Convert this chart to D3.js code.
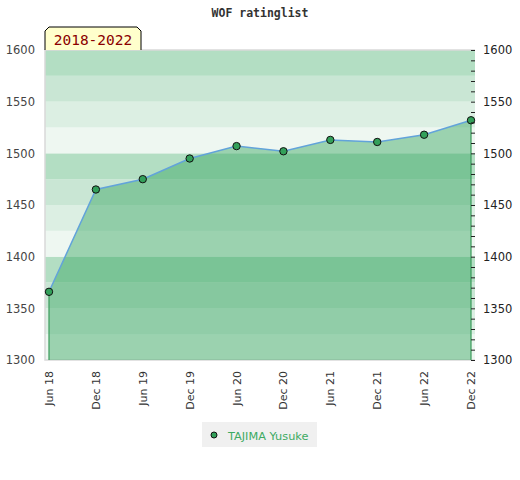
<!DOCTYPE html>
<html>
<head>
<meta charset="utf-8">
<script src="https://cdn.jsdelivr.net/npm/d3@7"></script>
<style>
  body { margin: 0; background: #fff; }
  svg text { font-family: "DejaVu Sans", sans-serif; }
</style>
</head>
<body>
<div id="chart"></div>
<script>
// chart data
var title = "WOF ratinglist";
var periodLabel = "2018-2022";
var playerName = "TAJIMA Yusuke";
var periods = ["Jun 18", "Dec 18", "Jun 19", "Dec 19", "Jun 20", "Dec 20", "Jun 21", "Dec 21", "Jun 22", "Dec 22"];
var ratings = [1366, 1465, 1475, 1495, 1507, 1502, 1513, 1511, 1518, 1532];
var yTicks = [1300, 1350, 1400, 1450, 1500, 1550, 1600];
var yMinorTicks = [1300, 1310, 1320, 1330, 1340, 1350, 1360, 1370, 1380, 1390, 1400, 1410, 1420, 1430, 1440, 1450,
                   1460, 1470, 1480, 1490, 1500, 1510, 1520, 1530, 1540, 1550, 1560, 1570, 1580, 1590, 1600];
var bandStarts = [1300, 1325, 1350, 1375, 1400, 1425, 1450, 1475, 1500, 1525, 1550, 1575];

var width = 520, height = 480;
var margin = { top: 50, right: 45, bottom: 120, left: 45 };
var plotW = width - margin.left - margin.right;
var plotH = height - margin.top - margin.bottom;

var svg = d3.select("#chart").append("svg")
    .attr("width", width)
    .attr("height", height);

// title
svg.append("text")
    .attr("x", width / 2)
    .attr("y", 17)
    .attr("text-anchor", "middle")
    .style("font-family", "'DejaVu Sans Mono', monospace")
    .style("font-weight", "bold")
    .style("font-size", "11.5px")
    .attr("fill", "#333")
    .text(title);

var g = svg.append("g")
    .attr("transform", "translate(" + margin.left + "," + margin.top + ")");

// scales
var x = d3.scalePoint().domain(periods).range([4, plotW - 4]);
var y = d3.scaleLinear().domain([1300, 1600]).range([plotH, 0]);

// background bands, four shades per hundred points
var bandColor = ["#eef7f1", "#dcefe3", "#c9e6d4", "#b3dec3"];
g.selectAll(".band")
    .data(bandStarts)
    .enter().append("rect")
    .attr("class", "band")
    .attr("x", 0)
    .attr("width", plotW)
    .attr("y", function (d) { return y(d + 25); })
    .attr("height", function (d) { return y(d) - y(d + 25); })
    .attr("fill", function (d) { return bandColor[((d - 1300) / 25) % 4]; });

// frame
g.append("path")
    .attr("d", "M" + plotW + ",0H0V" + plotH + "H" + plotW)
    .attr("fill", "none")
    .attr("stroke", "#d9d9d9")
    .attr("stroke-width", 1.5);

// area under the rating line
var area = d3.area()
    .x(function (d, i) { return x(periods[i]); })
    .y0(y(1300))
    .y1(function (d) { return y(d); });

g.append("path")
    .datum(ratings)
    .attr("d", area)
    .attr("fill", "rgb(54,164,95)")
    .attr("fill-opacity", 0.45);

// green edges of the area
var last = ratings.length - 1;
[0, last].forEach(function (i) {
    g.append("line")
        .attr("x1", x(periods[i])).attr("x2", x(periods[i]))
        .attr("y1", y(ratings[i])).attr("y2", y(1300))
        .attr("stroke", "#3a9a5a")
        .attr("stroke-width", 1.2);
});

// rating line
var line = d3.line()
    .x(function (d, i) { return x(periods[i]); })
    .y(function (d) { return y(d); });

g.append("path")
    .datum(ratings)
    .attr("d", line)
    .attr("fill", "none")
    .attr("stroke", "#62a3da")
    .attr("stroke-width", 1.5);

g.selectAll(".dot")
    .data(ratings)
    .enter().append("circle")
    .attr("class", "dot")
    .attr("cx", function (d, i) { return x(periods[i]); })
    .attr("cy", function (d) { return y(d); })
    .attr("r", 3.7)
    .attr("fill", "#33a05a")
    .attr("stroke", "#111")
    .attr("stroke-width", 1);

// left axis labels
var leftAxis = g.append("g")
    .call(d3.axisLeft(y).tickValues(yTicks).tickSize(0).tickPadding(10).tickFormat(d3.format("d")));
leftAxis.select(".domain").remove();
leftAxis.selectAll("text").style("font-size", "11.5px").attr("fill", "#444");

// right axis: small ticks inside, labels outside
var rightTicks = g.append("g")
    .attr("transform", "translate(" + plotW + ",0)")
    .call(d3.axisLeft(y).tickValues(yMinorTicks).tickSize(4).tickFormat(""));
rightTicks.select(".domain").remove();
rightTicks.selectAll("line").attr("stroke", "#222");

var rightAxis = g.append("g")
    .attr("transform", "translate(" + plotW + ",0)")
    .call(d3.axisRight(y).tickValues(yTicks).tickSize(0).tickPadding(8).tickFormat(d3.format("d")));
rightAxis.select(".domain").remove();
rightAxis.selectAll("text").style("font-size", "11.5px").attr("fill", "#222");

// bottom labels, rotated
g.selectAll(".xlabel")
    .data(periods)
    .enter().append("text")
    .attr("class", "xlabel")
    .attr("transform", function (d) {
        return "translate(" + (x(d) + 4) + "," + (plotH + 11) + ") rotate(-90)";
    })
    .attr("text-anchor", "end")
    .style("font-size", "11px")
    .attr("fill", "#333")
    .text(function (d) { return d; });

// period tag above the plot
var tag = svg.append("g");
tag.append("path")
    .attr("d", "M45,50V31L49,27H137L141,31V50")
    .attr("fill", "#ffffcc")
    .attr("stroke", "#000")
    .attr("stroke-width", 1);
tag.append("text")
    .attr("x", 93)
    .attr("y", 45)
    .attr("text-anchor", "middle")
    .style("font-family", "'DejaVu Sans Mono', monospace")
    .style("font-size", "14.5px")
    .attr("fill", "#8b0000")
    .text(periodLabel);

// legend
var legend = svg.append("g");
legend.append("rect")
    .attr("x", 202).attr("y", 422)
    .attr("width", 115).attr("height", 25)
    .attr("fill", "#f0f0f0");
legend.append("circle")
    .attr("cx", 214).attr("cy", 435)
    .attr("r", 3)
    .attr("fill", "#33a05a")
    .attr("stroke", "#111");
legend.append("text")
    .attr("x", 228).attr("y", 439.5)
    .style("font-size", "11.3px")
    .attr("fill", "#3daa62")
    .text(playerName);
</script>
</body>
</html>
